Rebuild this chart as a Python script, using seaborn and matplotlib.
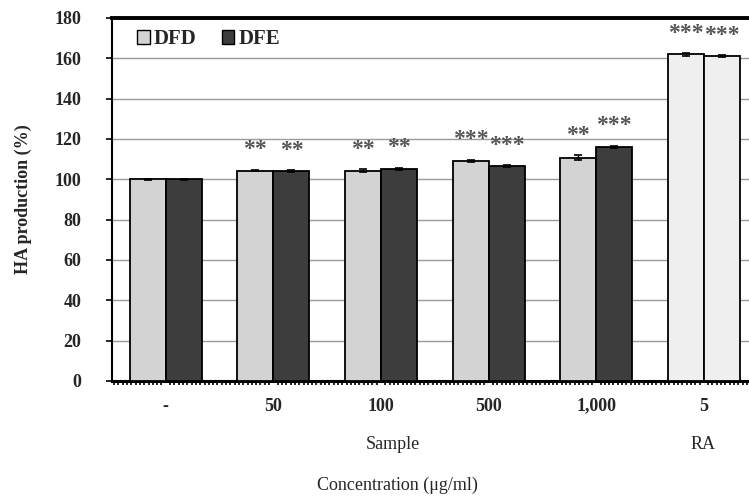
import matplotlib
matplotlib.use("Agg")
import matplotlib.pyplot as plt
from matplotlib.ticker import MultipleLocator
from matplotlib.patches import Patch
import seaborn as sns
import pandas as pd

# HA production relative to control, by concentration (µg/ml)
concentrations = ["-", "50", "100", "500", "1,000", "5"]
dfd_values = [100.0, 104.3, 104.3, 109.3, 110.7, 161.9]
dfe_values = [100.0, 104.0, 105.2, 106.4, 116.1, 160.9]
dfd_errors = [0.3, 0.3, 0.6, 0.5, 1.2, 0.6]
dfe_errors = [0.3, 0.4, 0.6, 0.5, 0.4, 0.5]
dfd_stars = ["", "**", "**", "***", "**", "***"]
dfe_stars = ["", "**", "**", "***", "***", "***"]
series = ["DFD", "DFE"]

df = pd.DataFrame({
    "conc": concentrations * 2,
    "value": dfd_values + dfe_values,
    "series": [series[0]] * len(concentrations) + [series[1]] * len(concentrations),
})

sns.set_theme(style="white")
plt.rcParams["font.family"] = ["Liberation Serif", "DejaVu Serif"]

fig = plt.figure(figsize=(7.49, 4.96), dpi=100)
ax = fig.add_axes([0.1495, 0.2319, 0.862, 0.7319])

light, dark, pale = "#d3d3d3", "#3d3d3d", "#efefef"
sns.barplot(data=df, x="conc", y="value", hue="series", order=concentrations,
            hue_order=series, palette=[light, dark], width=0.67, errorbar=None,
            edgecolor="black", linewidth=1.3, ax=ax, legend=False, zorder=3)

# RA reference bars are drawn in a pale fill
for cont in ax.containers:
    cont[-1].set_facecolor(pale)

errors = [dfd_errors, dfe_errors]
stars = [dfd_stars, dfe_stars]
vals = [dfd_values, dfe_values]
for cont, err, st, v in zip(ax.containers, errors, stars, vals):
    xs = [p.get_x() + p.get_width() / 2 for p in cont]
    ax.errorbar(xs, v, yerr=err, fmt="none", ecolor="black", elinewidth=1,
                capsize=3, capthick=1.2, zorder=4)
    for x, y, e, s in zip(xs, v, err, st):
        if s:
            ax.annotate(s, (x, y + e), xytext=(0, 7), textcoords="offset points",
                        ha="center", va="bottom", fontsize=17, color="#555555",
                        fontweight="bold")

ax.set_ylim(0, 180)
ax.set_xlim(-0.5, 5.5)
ax.yaxis.set_major_locator(MultipleLocator(20))
ax.yaxis.grid(True, color="#9a9a9a", linewidth=1, zorder=0)
ax.set_axisbelow(True)

ax.spines["right"].set_visible(False)
ax.spines["top"].set_linewidth(2.8)
ax.spines["top"].set_color("black")
ax.spines["left"].set_linewidth(1.5)
ax.spines["left"].set_color("black")
ax.spines["bottom"].set_linewidth(2.2)
ax.spines["bottom"].set_color("black")

ax.tick_params(axis="y", which="major", direction="out", length=4, width=1.2,
               color="black", left=True, labelsize=13, pad=18)
ax.tick_params(axis="x", which="major", length=0, labelsize=13, pad=12)
ax.xaxis.set_minor_locator(MultipleLocator(0.04))
ax.tick_params(axis="x", which="minor", direction="out", length=3, width=1.2,
               color="black", bottom=True)
for lab in ax.get_xticklabels() + ax.get_yticklabels():
    lab.set_fontweight("bold")

ax.set_xlabel("")
ax.set_ylabel("HA production (%)", fontsize=13, fontweight="bold", labelpad=16)

fig.text(0.525, 0.103, "Sample", ha="center", va="center", fontsize=13)
fig.text(0.938, 0.103, "RA", ha="center", va="center", fontsize=13)
fig.text(0.531, 0.022, "Concentration (\u03bcg/ml)", ha="center", va="center",
         fontsize=13)

handles = [Patch(facecolor=light, edgecolor="black", linewidth=1),
           Patch(facecolor=dark, edgecolor="black", linewidth=1)]
ax.legend(handles, series, loc="upper left", bbox_to_anchor=(0.01, 1.02),
          ncol=2, frameon=False, handlelength=0.6, handleheight=0.6,
          handletextpad=0.2, columnspacing=1.2,
          prop={"family": "Liberation Serif", "weight": "bold", "size": 15})

fig.savefig("out.png", dpi=100)
